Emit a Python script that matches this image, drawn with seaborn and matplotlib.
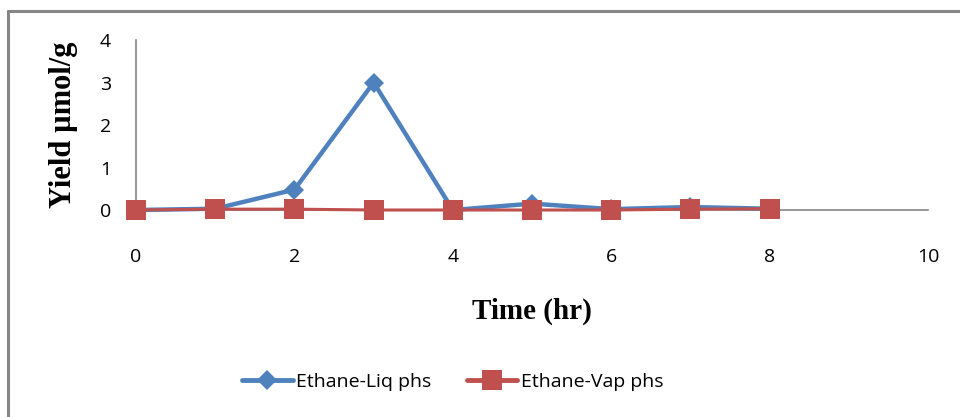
import pandas as pd
import seaborn as sns
import matplotlib.pyplot as plt
from matplotlib.lines import Line2D

# ===============================
# Data
# ===============================

time_hr = [0, 1, 2, 3, 4, 5, 6, 7, 8]
liq_yield = [0.0, 0.03, 0.48, 3.0, 0.0, 0.15, 0.02, 0.07, 0.03]
vap_yield = [0.0, 0.02, 0.02, 0.0, 0.0, 0.0, 0.0, 0.02, 0.03]

series_names = ["Ethane-Liq phs", "Ethane-Vap phs"]
colors = ["#4F81BD", "#C0504D"]

data = pd.concat([
    pd.DataFrame({"Time": time_hr, "Yield": liq_yield, "Series": series_names[0]}),
    pd.DataFrame({"Time": time_hr, "Yield": vap_yield, "Series": series_names[1]}),
])

# ===============================
# Plot
# ===============================

sns.set_style("white")
plt.rcParams['font.family'] = ['Open Sans', 'DejaVu Sans']
plt.rcParams['text.color'] = 'black'
plt.rcParams['xtick.color'] = 'black'
plt.rcParams['ytick.color'] = 'black'
plt.rcParams['axes.labelcolor'] = 'black'

fig = plt.figure(figsize=(9.6, 4.17), dpi=100)
ax = fig.add_axes([0.1417, 0.4964, 0.825, 0.4076])

liq = data[data["Series"] == series_names[0]]
vap = data[data["Series"] == series_names[1]]

sns.lineplot(x="Time", y="Yield", data=liq, ax=ax, color=colors[0],
             linewidth=3.2, marker="D", markersize=10, markeredgewidth=0,
             label=series_names[0], zorder=3, clip_on=False)
sns.lineplot(x="Time", y="Yield", data=vap, ax=ax, color=colors[1],
             linewidth=2.2, marker="s", markersize=14, markeredgewidth=0,
             label=series_names[1], zorder=4, clip_on=False)

ax.set_xlim(0, 10)
ax.set_ylim(0, 4)
ax.set_xticks([0, 2, 4, 6, 8, 10])
ax.set_yticks([0, 1, 2, 3, 4])
for s in ["top", "right"]:
    ax.spines[s].set_visible(False)
for s in ["left", "bottom"]:
    ax.spines[s].set_color("#868686")
    ax.spines[s].set_linewidth(1.2)
    ax.spines[s].set_zorder(1)
ax.tick_params(axis="x", length=0, pad=27, labelsize=14)
ax.tick_params(axis="y", length=0, pad=18, labelsize=14)

ax.set_xlabel("Time (hr)", family="Liberation Serif", fontweight="bold",
              fontsize=21, labelpad=23)
ax.set_ylabel("Yield µmol/g", family="Liberation Serif", fontweight="bold",
              fontsize=22, labelpad=16)

leg = ax.legend(loc="center", bbox_to_anchor=(0.40, -1.01), ncol=2, frameon=False,
                fontsize=14, handlelength=2.6, columnspacing=1.8, handletextpad=0.2)
for h in leg.legend_handles:
    h.set_linewidth(3.5)

# partial chart frame like the source
fig.add_artist(Line2D([0.0085, 0.0085], [0.0, 0.974], color="#868686", lw=2.2))
fig.add_artist(Line2D([0.0085, 1.0], [0.974, 0.974], color="#868686", lw=2.2))

fig.savefig("out.png", dpi=100)
